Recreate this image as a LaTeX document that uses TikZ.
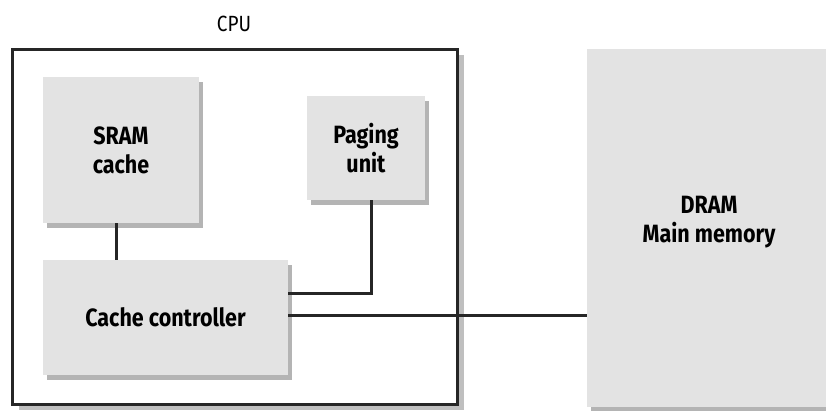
\documentclass[tikz,border=0pt]{standalone}
\usepackage{fontspec}
\setmainfont{Fira Sans}[FakeStretch=0.86]
\usepackage{tikz}
\usetikzlibrary{positioning,shadows}

\definecolor{boxgray}{HTML}{E3E3E3}
\definecolor{shadegray}{HTML}{B4B4B4}

\begin{document}
\begin{tikzpicture}[x=1pt, y=-1pt,
        unit/.style={rectangle, fill=boxgray, align=center, inner sep=0pt,
            font=\fontsize{25}{29}\selectfont\bfseries,
            drop shadow={shadow xshift=4pt, shadow yshift=-5pt, fill=shadegray, opacity=1}},
        chip/.style={rectangle, draw=black!85, line width=3pt, fill=white, inner sep=0pt,
            drop shadow={shadow xshift=7pt, shadow yshift=-6pt, fill=black, opacity=.25}},
        link/.style={draw=black!85, line width=3pt}]
                \useasboundingbox (0,0) rectangle (826,410);
                \node[chip, minimum width=445pt, minimum height=355pt] (cpu) at (234.5,226.5) {};
                \node[font=\fontsize{22}{24}\selectfont] (cpulabel) at (234,24) {CPU};
                \node[unit, minimum width=156pt, minimum height=146pt] (sram) at (121,150) {SRAM\\cache};
                \node[unit, minimum width=118pt, minimum height=104pt] (paging) at (366,148) {Paging\\unit};
                \node[unit, minimum width=245pt, minimum height=115pt] (ctrl) at (165.5,317.5) {Cache controller};
                \node[unit, minimum width=244pt, minimum height=358pt,
                    label={[font=\fontsize{25}{29}\selectfont\bfseries, align=center, yshift=6pt]center:DRAM\\Main memory}] (dram) at (709,228) {};
                
                \draw[link] ([xshift=-5pt]sram.south) -- ([xshift=-5pt]sram.south |- ctrl.north);
                \draw[link] ([xshift=5pt]paging.south) |- ([yshift=24pt]ctrl.east);
                \draw[link] ([yshift=2pt]ctrl.east) -- ([yshift=2pt]ctrl.east -| dram.west);
\end{tikzpicture}
\end{document}
